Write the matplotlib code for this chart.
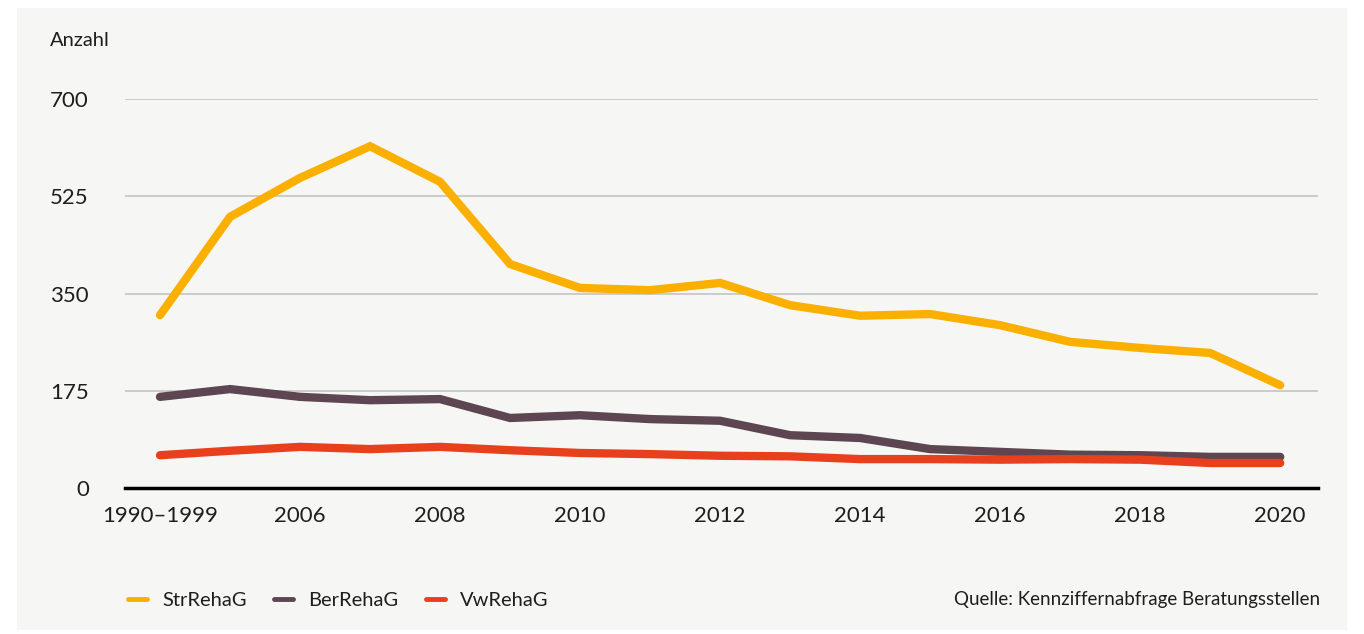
import matplotlib.pyplot as plt
from matplotlib.patches import Rectangle

# Daten
jahre = ['1990–1999', '2005', '2006', '2007', '2008', '2009', '2010', '2011', '2012',
         '2013', '2014', '2015', '2016', '2017', '2018', '2019', '2020']
str_reha = [311, 488, 558, 615, 551, 403, 360, 356, 369, 329, 310, 313, 293, 263, 252, 243, 185]
ber_reha = [164, 178, 164, 158, 160, 126, 131, 124, 121, 95, 90, 70, 65, 60, 59, 56, 56]
vw_reha = [59, 67, 74, 70, 74, 68, 63, 61, 58, 57, 52, 52, 51, 52, 51, 45, 45]
y_ticks = [0, 175, 350, 525, 700]

farben = {'StrRehaG': '#fbb000', 'BerRehaG': '#5d4651', 'VwRehaG': '#e8401c'}

plt.rcParams['font.family'] = ['Lato', 'DejaVu Sans']

fig = plt.figure(figsize=(13.64, 6.34), dpi=100)
fig.patch.set_facecolor('white')
# grauer Hintergrund
fig.patches.append(Rectangle((17 / 1364, 1 - 630 / 634), 1330 / 1364, 622 / 634,
                             transform=fig.transFigure, facecolor='#f6f6f4',
                             edgecolor='none', zorder=-10))

ax = fig.add_axes([125 / 1364, 1 - 488 / 634, 1193 / 1364, 389 / 634])
ax.set_facecolor('none')
ax.set_zorder(1)

x = list(range(len(jahre)))
for name, werte in [('StrRehaG', str_reha), ('BerRehaG', ber_reha), ('VwRehaG', vw_reha)]:
    ax.plot(x, werte, color=farben[name], lw=6, solid_capstyle='round',
            solid_joinstyle='miter', label=name, zorder=3)

ax.set_ylim(0, 700)
ax.set_xlim(-0.5, 16.54)
ax.set_yticks(y_ticks)
ax.set_yticklabels([str(v) for v in y_ticks])
ax.set_xticks(x[0::2])
ax.set_xticklabels(jahre[0::2])

ax.grid(axis='y', color='#c4c4c4', lw=1.2)
ax.set_axisbelow(True)
for s in ['top', 'right', 'left']:
    ax.spines[s].set_visible(False)
ax.spines['bottom'].set_color('black')
ax.spines['bottom'].set_linewidth(2.5)
ax.spines['bottom'].set_zorder(4)
ax.tick_params(axis='both', length=0, labelsize=16, colors='#1e1e1e')
ax.tick_params(axis='y', pad=26)
ax.tick_params(axis='x', pad=13)

fig.text(50 / 1364, 1 - 41 / 634, 'Anzahl', fontsize=14.5, color='#1e1e1e',
         ha='left', va='center')

leg = fig.legend(loc='center left', bbox_to_anchor=(110 / 1364, 1 - 600 / 634), ncol=3,
                 frameon=False, fontsize=14.5, handlelength=0.95, handletextpad=0.75,
                 columnspacing=1.35)
for h in leg.get_lines():
    h.set_linewidth(3.5)
    h.set_solid_capstyle('round')
for t in leg.get_texts():
    t.set_color('#1e1e1e')

fig.text(1320 / 1364, 1 - 600 / 634, 'Quelle: Kennziffernabfrage Beratungsstellen',
         fontsize=13.5, color='#1e1e1e', ha='right', va='center')

fig.savefig('out.png', dpi=100)
